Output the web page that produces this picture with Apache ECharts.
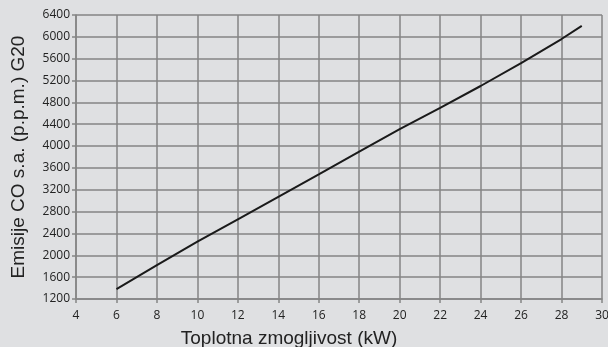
<!DOCTYPE html>
<html lang="sl" style="height: 100%">
<head>
  <meta charset="utf-8" />
  <title>Emisije CO</title>
</head>
<body style="height: 100%; margin: 0; background: #dfe0e2">
  <div id="container" style="width: 608px; height: 347px"></div>

  <script type="text/javascript" src="https://fastly.jsdelivr.net/npm/echarts@6.0.0/dist/echarts.min.js"></script>
  <script type="text/javascript">
    // toplotna zmogljivost (kW) in emisije CO (p.p.m.)
    var moc = [6, 8, 10, 12, 14, 16, 18, 20, 22, 24, 26, 28, 29];
    var emisije = [1380, 1820, 2250, 2660, 3070, 3480, 3900, 4310, 4700, 5100, 5520, 5960, 6200];

    var dom = document.getElementById('container');
    var myChart = echarts.init(dom, null, { renderer: 'canvas' });

    var gridColor = '#858585';
    var labelFont = { color: '#222', fontSize: 12, fontFamily: 'Open Sans' };

    var option = {
      backgroundColor: '#dfe0e2',
      animation: false,
      grid: { left: 76, right: 6, top: 15, bottom: 48, containLabel: false, outerBoundsMode: 'none' },
      xAxis: {
        type: 'value',
        min: 4,
        max: 30,
        interval: 2,
        name: 'Toplotna zmogljivost (kW)',
        nameLocation: 'middle',
        nameGap: 30,
        nameTextStyle: { color: '#222', fontSize: 19, fontFamily: 'Liberation Sans', padding: [0, 100, 0, 0] },
        axisLine: { show: true, lineStyle: { color: gridColor, width: 1.5 } },
        axisTick: { show: true, length: 4, lineStyle: { color: gridColor, width: 1.5 } },
        axisLabel: Object.assign({ margin: 11 }, labelFont),
        splitLine: { show: true, lineStyle: { color: gridColor, width: 1.5 } }
      },
      yAxis: {
        type: 'value',
        min: 1200,
        max: 6400,
        interval: 400,
        name: 'Emisije CO s.a. (p.p.m.) G20',
        nameLocation: 'middle',
        nameGap: 48,
        nameTextStyle: { color: '#222', fontSize: 19, fontFamily: 'Liberation Sans' },
        axisLine: { show: true, lineStyle: { color: gridColor, width: 1.5 } },
        axisTick: { show: true, length: 4, lineStyle: { color: gridColor, width: 1.5 } },
        axisLabel: Object.assign({ margin: 6, formatter: function (v) { return String(v); } }, labelFont),
        splitLine: { show: true, lineStyle: { color: gridColor, width: 1.5 } }
      },
      series: [
        {
          type: 'line',
          data: moc.map(function (x, i) { return [x, emisije[i]]; }),
          showSymbol: false,
          smooth: false,
          lineStyle: { color: '#1a1a1a', width: 2 }
        }
      ]
    };

    myChart.setOption(option);
    window.addEventListener('resize', myChart.resize);
  </script>
</body>
</html>
